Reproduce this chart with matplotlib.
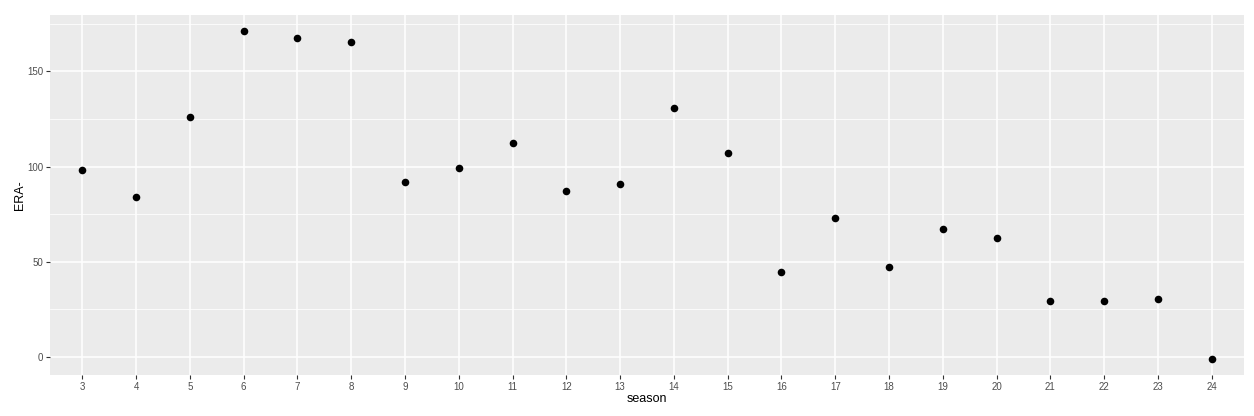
import numpy as np
import matplotlib.pyplot as plt

seasons = [3, 4, 5, 6, 7, 8, 9, 10, 11, 12, 13, 14, 15, 16, 17, 18, 19, 20, 21, 22, 23, 24]
era_minus = [98.2, 84, 126, 171, 167.5, 165.4, 91.9, 99.2, 112.3, 87.1, 90.8, 130.7,
             107.1, 44.6, 73, 47.2, 67.2, 62.5, 29.4, 29.4, 30.4, -0.8]

plt.rcParams['font.family'] = ['Liberation Sans', 'DejaVu Sans']

fig = plt.figure(figsize=(12.54, 4.16), dpi=100)
ax = fig.add_axes([50 / 1254, 41 / 416, 1194 / 1254, 360 / 416])
ax.set_facecolor('#EBEBEB')

# discrete x scale, like a factor in ggplot
xpos = np.arange(len(seasons))
ax.scatter(xpos, era_minus, s=30, color='black', zorder=3, linewidths=0)

ax.set_xlim(-0.6, len(seasons) - 0.4)
lo, hi = min(era_minus), max(era_minus)
pad = (hi - lo) * 0.05
ax.set_ylim(lo - pad, hi + pad)

ax.set_xticks(xpos)
ax.set_xticklabels([str(s) for s in seasons])
ax.set_yticks([0, 50, 100, 150])
ax.set_yticks([25, 75, 125, 175], minor=True)

ax.grid(which='major', color='white', linewidth=1.1, zorder=0)
ax.grid(which='minor', axis='y', color='white', linewidth=0.55, zorder=0)
ax.set_axisbelow(True)
for sp in ax.spines.values():
    sp.set_visible(False)

ax.tick_params(which='major', length=3, color='#333333', width=0.8,
               labelsize=7, labelcolor='#4D4D4D', pad=2)
ax.tick_params(which='minor', length=0)

ax.set_xlabel('season', fontsize=9, labelpad=1)
ax.set_ylabel('ERA-', fontsize=9, labelpad=0.5)

fig.savefig('out.png', dpi=100, facecolor='white')
